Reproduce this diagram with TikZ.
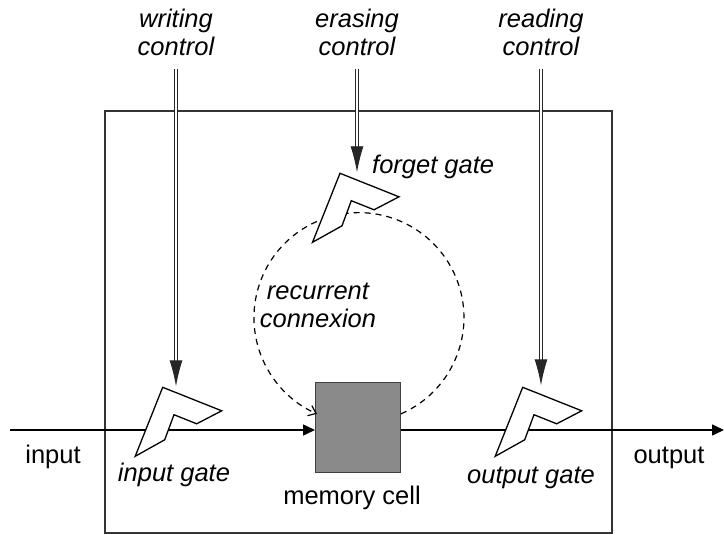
\documentclass[tikz,border=0pt]{standalone}
\usepackage{fontspec}
\setmainfont{Liberation Sans}
\usepackage{tikz}
\usetikzlibrary{arrows.meta, positioning, calc}
\definecolor{cellgray}{HTML}{8A8A8A}
\definecolor{framecolor}{HTML}{333333}

\begin{document}
\begin{tikzpicture}[
  x=1pt, y=-1pt,
  every node/.style={font=\fontsize{25.5}{27.5}\selectfont, inner sep=0pt},
  lbl/.style={font=\fontsize{25.5}{27.5}\selectfont\itshape, align=center},
  ctrl/.style={double, double distance=1.8pt, line width=0.9pt, draw=black!85,
               -{Latex[length=26pt, width=13pt]}},
  flow/.style={line width=1.5pt, -{Triangle[length=12pt, width=11pt]}},
  recur/.style={line width=1.2pt, dash pattern=on 6pt off 5pt,
                -{Straight Barb[length=7pt, width=11pt, line width=1.2pt]}},
  cell/.style={rectangle, draw=black!75, fill=cellgray, line width=1pt,
               minimum width=85pt, minimum height=90pt},
  gate/.pic={
    \draw[line width=1.3pt, fill=white, line join=miter]
      (0,0) -- (59,23.5) -- (34,36.5) -- (11.3,27.4) -- (2,52.5) -- (-27.5,69) -- cycle;
    \coordinate (-top) at (0,0);
  }
]
  \useasboundingbox (0,0) rectangle (724,535);

  % outer frame
  \draw[framecolor, line width=1.5pt] (105,111) rectangle (612,533);

  % memory cell and flow line
  \node[cell] (mem) at (358,427) {};
  \node[anchor=base] (in)  at (53,463)  {input};
  \node[anchor=base] (out) at (669,463) {output};
  \coordinate (start) at (10,430);
  \coordinate (stop)  at (724,430);
  \draw[flow] (start) -- (start -| mem.west);
  \draw[flow] (mem.east |- stop) -- (stop);

  % recurrent loop
  \draw[recur] (mem.17) arc[start angle=66.4, end angle=-246.4, radius=105];
  \node[lbl, anchor=north] (rec) at (318,283) {recurrent\\connexion};

  % gates
  \pic (ig) at (162.7,387.3) {gate};
  \pic (fg) at (340,173.3)   {gate};
  \pic (og) at (522.7,387.3) {gate};

  \node[lbl, anchor=base] (igl) at (174,481)  {input gate};
  \node[lbl, anchor=base west] (fgl) at (372,173) {forget gate};
  \node[lbl, anchor=base] (ogl) at (531,483)  {output gate};
  \node[anchor=base] (meml) at (352,504) {memory cell};

  % controls
  \node[lbl, anchor=north] (wc) at (176,9)   {writing\\control};
  \node[lbl, anchor=north] (ec) at (357,9)   {erasing\\control};
  \node[lbl, anchor=north] (rc) at (541,9)   {reading\\control};

  \draw[ctrl] ([yshift=-13pt]wc.south) -- ($(wc.south |- ig-top)+(0,-1)$);
  \draw[ctrl] ([yshift=-13pt]ec.south) -- ($(ec.south |- fg-top)+(0,-1)$);
  \draw[ctrl] ([yshift=-13pt]rc.south) -- ($(rc.south |- og-top)+(0,-2)$);
\end{tikzpicture}
\end{document}
